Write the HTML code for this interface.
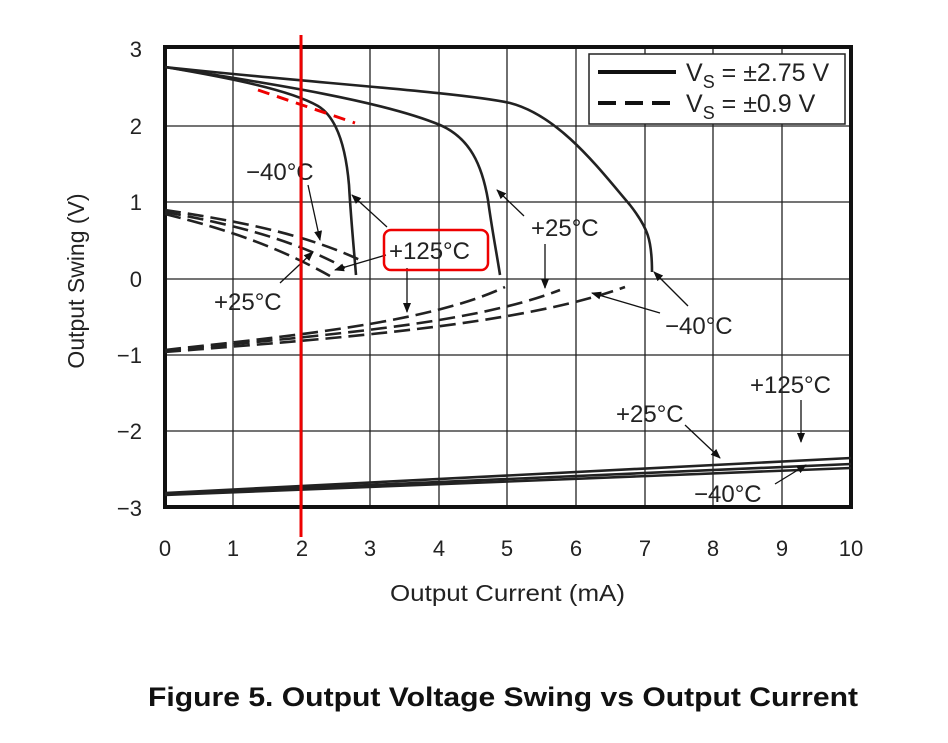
<!DOCTYPE html>
<html><head><meta charset="utf-8"><style>
body{margin:0;background:#fff}
svg text{font-family:"Liberation Sans",sans-serif;fill:#222}
</style></head><body>
<svg width="948" height="738" viewBox="0 0 948 738" xmlns="http://www.w3.org/2000/svg">
<defs><marker id="ah" markerWidth="10" markerHeight="8" refX="9" refY="4" orient="auto" markerUnits="userSpaceOnUse"><path d="M0,0 L10,4 L0,8 z" fill="#111"/></marker></defs>
<g stroke="#222" stroke-width="1.3">
<line x1="233" y1="47" x2="233" y2="507"/><line x1="302" y1="47" x2="302" y2="507"/><line x1="370" y1="47" x2="370" y2="507"/><line x1="439" y1="47" x2="439" y2="507"/><line x1="507" y1="47" x2="507" y2="507"/><line x1="576" y1="47" x2="576" y2="507"/><line x1="645" y1="47" x2="645" y2="507"/><line x1="713" y1="47" x2="713" y2="507"/><line x1="782" y1="47" x2="782" y2="507"/>
<line x1="165" y1="126" x2="851" y2="126"/><line x1="165" y1="202" x2="851" y2="202"/><line x1="165" y1="279" x2="851" y2="279"/><line x1="165" y1="355" x2="851" y2="355"/><line x1="165" y1="431" x2="851" y2="431"/>
</g>
<rect x="165" y="47" width="686" height="460" fill="none" stroke="#111" stroke-width="4"/>
<rect x="589" y="54" width="256" height="70" fill="#fff" stroke="#222" stroke-width="1.5"/>
<line x1="598" y1="72" x2="676" y2="72" stroke="#111" stroke-width="4"/>
<line x1="598" y1="103" x2="676" y2="103" stroke="#111" stroke-width="4" stroke-dasharray="18,9"/>
<text x="686" y="81" font-size="25">V<tspan font-size="18" dy="7">S</tspan><tspan dy="-7"> = ±2.75 V</tspan></text>
<text x="686" y="112" font-size="25">V<tspan font-size="18" dy="7">S</tspan><tspan dy="-7"> = ±0.9 V</tspan></text>
<g fill="none" stroke="#222" stroke-width="2.6">
<path d="M165,67 C230,78 290,90 318,106 C338,118 346,150 349,185 C351,220 354,250 356,275"/>
<path d="M165,67 C260,82 380,100 440,125 C470,138 482,165 488,200 C492,230 497,255 500,275"/>
<path d="M165,67 C300,82 460,92 510,103 C560,116 600,170 630,205 C648,228 652,240 652,272"/>
<path d="M165,493 L851,458"/><path d="M165,494 L851,464"/><path d="M165,495 L851,468"/>
</g>
<g fill="none" stroke="#222" stroke-width="2.6" stroke-dasharray="16,7">
<path d="M165,210 C230,220 300,232 360,260"/>
<path d="M165,212 C230,224 290,238 345,268"/>
<path d="M165,214 C230,230 280,248 330,276"/>
<path d="M165,350 C300,335 430,322 505,287"/>
<path d="M165,351 C320,335 470,325 560,290"/>
<path d="M165,352 C340,338 520,325 625,287"/>
</g>
<g stroke="#111" stroke-width="1.3" fill="none" marker-end="url(#ah)">
<line x1="308" y1="185" x2="320" y2="240"/>
<line x1="280" y1="283" x2="313" y2="252"/>
<line x1="386" y1="255" x2="335" y2="270"/>
<line x1="387" y1="227" x2="352" y2="195"/>
<line x1="407" y1="268" x2="407" y2="312"/>
<line x1="545" y1="244" x2="545" y2="288"/>
<line x1="524" y1="216" x2="497" y2="190"/>
<line x1="660" y1="313" x2="592" y2="293"/>
<line x1="688" y1="306" x2="654" y2="272"/>
<line x1="685" y1="425" x2="720" y2="458"/>
<line x1="801" y1="400" x2="801" y2="442"/>
<line x1="775" y1="484" x2="806" y2="465"/>
</g>
<g font-size="24">
<text x="246" y="180">−40°C</text>
<text x="214" y="310">+25°C</text>
<text x="389" y="259">+125°C</text>
<text x="531" y="236">+25°C</text>
<text x="665" y="334">−40°C</text>
<text x="750" y="393">+125°C</text>
<text x="616" y="422">+25°C</text>
<text x="694" y="502">−40°C</text>
</g>
<rect x="384" y="230" width="104" height="40" rx="7" fill="none" stroke="#e00" stroke-width="2.5"/>
<line x1="258" y1="90" x2="355" y2="123" stroke="#e00" stroke-width="3" stroke-dasharray="12,8"/>
<line x1="301" y1="35" x2="301" y2="537" stroke="#e00" stroke-width="3"/>
<g font-size="22" text-anchor="end">
<text x="142" y="57">3</text><text x="142" y="134">2</text><text x="142" y="210">1</text><text x="142" y="287">0</text><text x="142" y="363">−1</text><text x="142" y="439">−2</text><text x="142" y="516">−3</text>
</g>
<g font-size="22" text-anchor="middle">
<text x="165" y="556">0</text><text x="233" y="556">1</text><text x="302" y="556">2</text><text x="370" y="556">3</text><text x="439" y="556">4</text><text x="507" y="556">5</text><text x="576" y="556">6</text><text x="645" y="556">7</text><text x="713" y="556">8</text><text x="782" y="556">9</text><text x="851" y="556">10</text>
</g>
<text x="390" y="601" font-size="23" textLength="235" lengthAdjust="spacingAndGlyphs">Output Current (mA)</text>
<text x="148" y="706" font-weight="bold" font-size="27" textLength="710" lengthAdjust="spacingAndGlyphs" style="fill:#111">Figure 5. Output Voltage Swing vs Output Current</text>
<text transform="translate(84,281) rotate(-90)" font-size="23" text-anchor="middle">Output Swing (V)</text>
</svg>
</body></html>
